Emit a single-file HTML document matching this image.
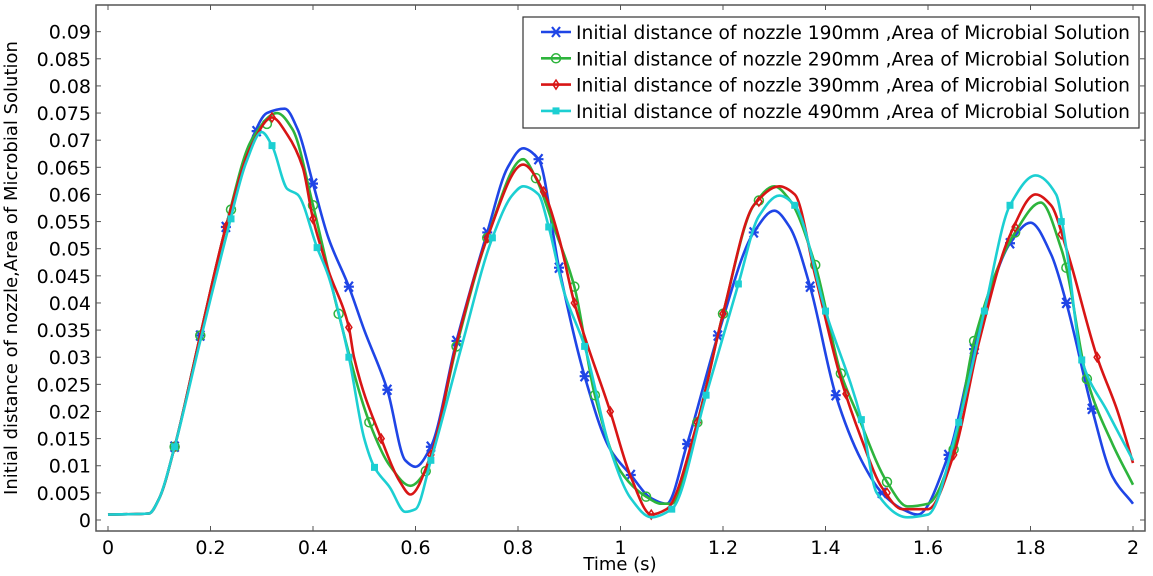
<!DOCTYPE html>
<html><head><meta charset="utf-8"><style>
body{margin:0;background:#fff}
svg{display:block;font-family:"DejaVu Sans","Liberation Sans",sans-serif}
</style></head><body>
<svg id="chart" width="1153" height="576" viewBox="0 0 1153 576"></svg>
<script>
const s190t=[0,0.08,0.1,0.13,0.18,0.23,0.28,0.31,0.345,0.37,0.4,0.43,0.47,0.5,0.545,0.58,0.6,0.63,0.68,0.74,0.78,0.81,0.84,0.88,0.93,0.98,1.02,1.06,1.09,1.13,1.19,1.26,1.3,1.33,1.37,1.42,1.47,1.51,1.55,1.58,1.64,1.69,1.76,1.8,1.84,1.87,1.92,1.96,2.0];
const s190v=[0.001,0.0012,0.004,0.0135,0.034,0.054,0.07,0.075,0.0758,0.072,0.062,0.052,0.043,0.035,0.024,0.011,0.0098,0.0135,0.033,0.053,0.065,0.0685,0.0665,0.0465,0.0265,0.013,0.0083,0.004,0.003,0.014,0.034,0.053,0.057,0.054,0.043,0.023,0.011,0.005,0.002,0.001,0.012,0.0315,0.051,0.0548,0.049,0.040,0.0205,0.008,0.003];
const s290t=[0,0.08,0.1,0.13,0.18,0.23,0.28,0.33,0.36,0.4,0.42,0.45,0.51,0.55,0.59,0.62,0.68,0.74,0.81,0.835,0.87,0.91,0.95,1.0,1.05,1.08,1.1,1.15,1.2,1.26,1.3,1.33,1.38,1.43,1.46,1.52,1.56,1.6,1.65,1.69,1.77,1.82,1.86,1.87,1.91,1.96,2.0];
const s290v=[0.001,0.0012,0.004,0.0135,0.034,0.054,0.07,0.075,0.072,0.058,0.05,0.038,0.018,0.01,0.0063,0.009,0.032,0.052,0.0665,0.063,0.054,0.043,0.023,0.009,0.0043,0.003,0.003,0.018,0.038,0.058,0.0615,0.059,0.047,0.027,0.02,0.007,0.0025,0.003,0.013,0.033,0.053,0.0585,0.05,0.0465,0.026,0.014,0.0065];
const s390t=[0,0.08,0.1,0.13,0.18,0.23,0.28,0.32,0.35,0.38,0.4,0.43,0.47,0.48,0.533,0.57,0.59,0.63,0.68,0.74,0.81,0.85,0.88,0.91,0.98,1.02,1.06,1.09,1.15,1.2,1.26,1.31,1.34,1.38,1.43,1.47,1.51,1.55,1.6,1.65,1.7,1.76,1.81,1.84,1.87,1.93,1.97,2.0];
const s390v=[0.001,0.0012,0.004,0.0135,0.034,0.054,0.069,0.0742,0.071,0.065,0.0555,0.046,0.0355,0.03,0.015,0.007,0.0047,0.012,0.0325,0.052,0.0655,0.0605,0.052,0.040,0.020,0.008,0.001,0.002,0.018,0.038,0.058,0.0615,0.06,0.045,0.026,0.015,0.006,0.002,0.002,0.012,0.033,0.0525,0.06,0.058,0.05,0.030,0.02,0.0105];
const s490t=[0,0.08,0.1,0.13,0.18,0.23,0.27,0.3,0.32,0.35,0.37,0.408,0.43,0.47,0.5,0.52,0.55,0.58,0.6,0.63,0.69,0.75,0.79,0.81,0.84,0.86,0.89,0.93,0.98,1.02,1.06,1.1,1.167,1.23,1.27,1.31,1.34,1.4,1.47,1.5,1.56,1.6,1.66,1.71,1.76,1.81,1.85,1.87,1.9,1.95,2.0];
const s490v=[0.001,0.0012,0.004,0.0135,0.033,0.052,0.066,0.0715,0.069,0.061,0.06,0.0502,0.045,0.030,0.015,0.0097,0.006,0.0015,0.002,0.011,0.032,0.052,0.06,0.0615,0.06,0.054,0.042,0.032,0.013,0.004,0.0005,0.002,0.023,0.0435,0.056,0.0598,0.058,0.0385,0.0185,0.005,0.0005,0.001,0.018,0.0385,0.058,0.0635,0.06,0.05,0.0295,0.02,0.011];
const m190=[0.13,0.18,0.23,0.29,0.4,0.47,0.545,0.63,0.68,0.74,0.84,0.88,0.93,1.02,1.13,1.19,1.26,1.37,1.42,1.51,1.64,1.69,1.76,1.87,1.92];
const m290=[0.13,0.18,0.24,0.31,0.4,0.45,0.51,0.62,0.68,0.74,0.835,0.91,0.95,1.05,1.15,1.2,1.27,1.38,1.43,1.52,1.65,1.69,1.77,1.87,1.91];
const m390=[0.13,0.23,0.32,0.4,0.47,0.533,0.63,0.74,0.85,0.91,0.98,1.06,1.15,1.2,1.27,1.44,1.52,1.65,1.77,1.86,1.93];
const m490=[0.13,0.24,0.32,0.408,0.47,0.52,0.63,0.75,0.86,0.93,1.1,1.167,1.23,1.34,1.4,1.47,1.66,1.71,1.76,1.86,1.9];
const xTicks=[0,0.2,0.4,0.6,0.8,1,1.2,1.4,1.6,1.8,2];
const yTicks=[0,0.005,0.01,0.015,0.02,0.025,0.03,0.035,0.04,0.045,0.05,0.055,0.06,0.065,0.07,0.075,0.08,0.085,0.09];
const labels=["Initial distance of nozzle 190mm ,Area of Microbial Solution","Initial distance of nozzle 290mm ,Area of Microbial Solution","Initial distance of nozzle 390mm ,Area of Microbial Solution","Initial distance of nozzle 490mm ,Area of Microbial Solution"];

const NS="http://www.w3.org/2000/svg";
const svg=document.getElementById('chart');
const X=t=>108+t*512.5;
const Y=v=>520-v/0.005*27.13;
function mk(tag,a,parent){const e=document.createElementNS(NS,tag);for(const k in a)e.setAttribute(k,a[k]);(parent||svg).appendChild(e);return e;}
const ax=mk('rect',{x:96,y:5,width:1049,height:526,fill:'none',stroke:'#555','stroke-width':1.5});


xTicks.forEach(t=>{
  const l=mk('line',{x1:X(t),x2:X(t),y1:531,y2:526,stroke:'#555'});
  
  
  mk('line',{x1:X(t),x2:X(t),y1:5,y2:10,stroke:'#555'});
  const tx=mk('text',{x:X(t),y:554,'font-size':19,'text-anchor':'middle',fill:'#000'});
  tx.textContent=String(t);
  
  
});
yTicks.forEach(v=>{
  const l=mk('line',{x1:96,x2:101,y1:Y(v),y2:Y(v),stroke:'#555'});
  
  
  mk('line',{x1:1140,x2:1145,y1:Y(v),y2:Y(v),stroke:'#555'});
  const tx=mk('text',{x:91,y:Y(v)+7,'font-size':19,'text-anchor':'end',fill:'#000'});
  tx.textContent=String(v);
  
  
});
const xt=mk('text',{x:620,y:570,'font-size':18,'text-anchor':'middle'});xt.textContent='Time (s)';


const yt=mk('text',{x:0,y:0,'font-size':18,'text-anchor':'middle',transform:'translate(17,268) rotate(-90)'});
yt.textContent='Initial distance of nozzle,Area of Microbial Solution';



function smooth(ts,vs){
  const p=ts.map((t,i)=>[X(t),Y(vs[i])]);
  const n=p.length,dl=[],m=[];
  for(let i=0;i<n-1;i++)dl.push((p[i+1][1]-p[i][1])/(p[i+1][0]-p[i][0]));
  for(let i=0;i<n;i++){
    if(i===0)m.push(dl[0]);else if(i===n-1)m.push(dl[n-2]);
    else if(dl[i-1]*dl[i]<=0)m.push(0);
    else{const h0=p[i][0]-p[i-1][0],h1=p[i+1][0]-p[i][0];const w1=2*h1+h0,w2=h1+2*h0;m.push((w1+w2)/(w1/dl[i-1]+w2/dl[i]));}
  }
  let d=`M${p[0][0]},${p[0][1]}`;
  for(let i=0;i<n-1;i++){
    const h=(p[i+1][0]-p[i][0])/3;
    d+=`C${p[i][0]+h},${p[i][1]+m[i]*h} ${p[i+1][0]-h},${p[i+1][1]-m[i+1]*h} ${p[i+1][0]},${p[i+1][1]}`;
  }
  return d;
}
function interp(ts,vs,t){for(let i=0;i<ts.length-1;i++){if(t>=ts[i]&&t<=ts[i+1]){const f=(t-ts[i])/(ts[i+1]-ts[i]);return vs[i]+f*(vs[i+1]-vs[i]);}}return vs[vs.length-1];}
function marker(g,type,x,y,c){
  if(type==='star'){mk('path',{d:`M${x-5},${y}H${x+5}M${x-4},${y-5}L${x+4},${y+5}M${x-4},${y+5}L${x+4},${y-5}`,stroke:c,'stroke-width':2.2,fill:'none'},g);}
  else if(type==='circle'){mk('circle',{cx:x,cy:y,r:4.5,fill:'none',stroke:c,'stroke-width':1.5},g);}
  else if(type==='diamond'){mk('path',{d:`M${x},${y-4.5}L${x+3},${y}L${x},${y+4.5}L${x-3},${y}Z`,fill:'none',stroke:c,'stroke-width':1.5},g);}
  else {mk('rect',{x:x-3.5,y:y-3.5,width:7,height:7,fill:c},g);}
}
const series=[
  {t:s190t,v:s190v,m:m190,c:'#1f45e6',type:'star',name:'series-190mm'},
  {t:s290t,v:s290v,m:m290,c:'#2db43c',type:'circle',name:'series-290mm'},
  {t:s390t,v:s390v,m:m390,c:'#d81515',type:'diamond',name:'series-390mm'},
  {t:s490t,v:s490v,m:m490,c:'#1ccfd2',type:'square',name:'series-490mm'}];
series.forEach(s=>{
  const g=mk('g',{});
  
  
  mk('path',{d:smooth(s.t,s.v),fill:'none',stroke:s.c,'stroke-width':2.6},g);
  s.m.forEach(t=>marker(g,s.type,X(t),Y(interp(s.t,s.v,t)),s.c));
});
const lg=mk('g',{});


mk('rect',{x:523,y:17,width:616,height:111,fill:'#fff',stroke:'#333','stroke-width':1.2},lg);
series.forEach((s,i)=>{
  const y=32+i*26.3;
  const e=mk('g',{},lg);
  
  
  mk('line',{x1:541,x2:571,y1:y,y2:y,stroke:s.c,'stroke-width':2.6},e);
  marker(e,s.type,556,y,s.c);
  const tx=mk('text',{x:576,y:y+7,'font-size':18.5,textLength:554,lengthAdjust:'spacingAndGlyphs'},e);tx.textContent=labels[i];
});
</script>
</body></html>
